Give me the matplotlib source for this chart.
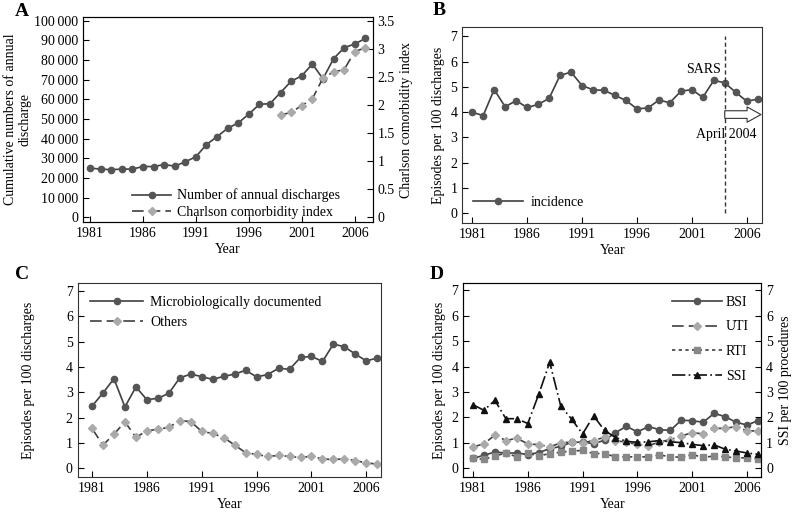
import numpy as np
import matplotlib
matplotlib.use("Agg")
import matplotlib.pyplot as plt
from matplotlib.ticker import FuncFormatter, MultipleLocator

plt.rcParams['font.family'] = ['Liberation Serif', 'DejaVu Serif']
plt.rcParams['font.size'] = 10

# -----------------------------
# Data
# -----------------------------
years = list(range(1981, 2008))

discharges = [25000, 24500, 24200, 24500, 24500, 25800, 25800, 26800, 26000, 28200,
              30800, 37000, 41000, 45300, 48000, 52500, 57500, 57800, 63500, 69200,
              72000, 78000, 70500, 80700, 86300, 88200, 91000]
charlson_years = list(range(1999, 2008))
charlson = [1.82, 1.87, 1.99, 2.11, 2.48, 2.59, 2.63, 2.95, 3.02]

incidence = [3.99, 3.86, 4.89, 4.21, 4.45, 4.18, 4.30, 4.54, 5.45, 5.58,
             5.05, 4.88, 4.86, 4.66, 4.46, 4.13, 4.16, 4.47, 4.37, 4.82,
             4.89, 4.58, 5.25, 5.16, 4.78, 4.43, 4.51]

micro = [2.45, 2.97, 3.54, 2.42, 3.21, 2.71, 2.76, 2.96, 3.57, 3.72,
         3.62, 3.51, 3.63, 3.72, 3.87, 3.61, 3.70, 3.95, 3.91, 4.38,
         4.42, 4.22, 4.91, 4.80, 4.51, 4.24, 4.36]
others = [1.57, 0.91, 1.34, 1.83, 1.22, 1.47, 1.54, 1.61, 1.88, 1.84,
          1.45, 1.37, 1.21, 0.91, 0.61, 0.54, 0.46, 0.50, 0.46, 0.42,
          0.47, 0.36, 0.34, 0.36, 0.30, 0.20, 0.16]

bsi = [0.39, 0.51, 0.64, 0.60, 0.60, 0.54, 0.62, 0.77, 0.86, 1.02,
       1.03, 0.97, 1.10, 1.40, 1.65, 1.43, 1.64, 1.52, 1.49, 1.89,
       1.87, 1.81, 2.16, 2.03, 1.81, 1.70, 1.87]
uti = [0.84, 0.96, 1.31, 1.09, 1.18, 0.96, 0.93, 0.84, 1.00, 1.03,
       1.00, 1.09, 1.22, 1.09, 1.02, 0.94, 0.89, 1.03, 1.13, 1.27,
       1.40, 1.35, 1.57, 1.57, 1.64, 1.47, 1.47]
rti = [0.39, 0.35, 0.48, 0.60, 0.45, 0.60, 0.48, 0.58, 0.63, 0.68,
       0.70, 0.58, 0.58, 0.45, 0.45, 0.45, 0.45, 0.52, 0.46, 0.43,
       0.54, 0.43, 0.48, 0.45, 0.41, 0.41, 0.38]
ssi = [2.50, 2.28, 2.67, 1.95, 1.95, 1.76, 2.91, 4.17, 2.46, 1.93,
       1.35, 2.06, 1.49, 1.21, 1.06, 1.02, 1.04, 1.09, 1.04, 1.01,
       0.94, 0.89, 0.92, 0.75, 0.68, 0.60, 0.55]

year_ticks = [1981, 1986, 1991, 1996, 2001, 2006]

LINE = '#404040'
DARK = '#555555'
LIGHT = '#aaaaaa'
MID = '#888888'
LONGDASH = (0, (7, 3))


def style_axes(ax):
    ax.tick_params(direction='in', length=4, width=0.8, labelsize=10)
    for s in ax.spines.values():
        s.set_linewidth(0.8)
        s.set_color('#333333')
    ax.set_xticks(year_ticks)
    ax.set_xlabel('Year', labelpad=2)


def thousands(v, pos):
    return '{:,}'.format(int(v)).replace(',', '\u2009')


fig = plt.figure(figsize=(7.93, 5.12), dpi=100)

# -----------------------------
# Panel A
# -----------------------------
axA = fig.add_axes([0.1047, 0.566, 0.3653, 0.401])
axA.plot(years, discharges, color=LINE, lw=1.2, marker='o', ms=4.5,
         mfc=DARK, mec=DARK, label='Number of annual discharges')
axA.set_xlim(1980.34, 2007.7)
axA.set_ylim(-2550, 102000)
axA.yaxis.set_major_locator(MultipleLocator(10000))
axA.yaxis.set_major_formatter(FuncFormatter(thousands))
style_axes(axA)
axA.set_ylabel('Cumulative numbers of annual\ndischarge', labelpad=2, linespacing=1.1)

axA2 = axA.twinx()
axA2.plot(charlson_years, charlson, color=LINE, lw=1.2, ls=LONGDASH, marker='D', ms=4,
          mfc=LIGHT, mec=LIGHT, label='Charlson comorbidity index')
axA2.set_ylim(-0.089, 3.57)
axA2.set_yticks([0, 0.5, 1, 1.5, 2, 2.5, 3, 3.5])
axA2.set_yticklabels(['0', '0.5', '1', '1.5', '2', '2.5', '3', '3.5'])
axA2.tick_params(direction='in', length=4, width=0.8, labelsize=10)
axA2.set_ylabel('Charlson comorbidity index', labelpad=4)

h1, l1 = axA.get_legend_handles_labels()
h2, l2 = axA2.get_legend_handles_labels()
axA2.legend(h1 + h2, l1 + l2, loc='lower right', bbox_to_anchor=(0.93, -0.045),
            frameon=False, handlelength=2.8, handletextpad=0.4, fontsize=10,
            labelspacing=0.25)

# -----------------------------
# Panel B
# -----------------------------
axB = fig.add_axes([0.583, 0.564, 0.378, 0.383])
axB.plot(years, incidence, color=LINE, lw=1.2, marker='o', ms=4.5,
         mfc=DARK, mec=DARK, label='incidence')
axB.axvline(2004, ymin=0.4 / 7.76, ymax=7.4 / 7.76, color='#333333', lw=1, ls=(0, (3, 2)))
axB.text(2003.7, 5.7, 'SARS', ha='right', va='center', fontsize=10)
axB.text(2004.1, 3.1, 'April 2004', ha='center', va='center', fontsize=10)
axB.annotate('', xy=(2007.3, 3.9), xytext=(2004.0, 3.9),
             arrowprops=dict(arrowstyle='simple,head_length=1.0,head_width=1.1,tail_width=0.55',
                             fc='white', ec='#333333', lw=0.8, shrinkA=0, shrinkB=0))
axB.set_xlim(1980.1, 2007.4)
axB.set_ylim(-0.4, 7.36)
axB.set_yticks(range(0, 8))
style_axes(axB)
axB.set_ylabel('Episodes per 100 discharges', labelpad=4)
axB.legend(loc='lower left', bbox_to_anchor=(-0.005, 0.01), frameon=False,
           handlelength=3.6, handletextpad=0.5, fontsize=10)

# -----------------------------
# Panel C
# -----------------------------
axC = fig.add_axes([0.098, 0.068, 0.382, 0.379])
axC.plot(years, micro, color=LINE, lw=1.2, marker='o', ms=4.5,
         mfc=DARK, mec=DARK, label='Microbiologically documented')
axC.plot(years, others, color=LINE, lw=1.2, ls=LONGDASH, marker='D', ms=4,
         mfc=LIGHT, mec=LIGHT, label='Others')
axC.set_xlim(1979.7, 2007.3)
axC.set_ylim(-0.36, 7.32)
axC.set_yticks(range(0, 8))
style_axes(axC)
axC.set_ylabel('Episodes per 100 discharges', labelpad=22)
axC.legend(loc='upper left', frameon=False, handlelength=3.8, handletextpad=0.5,
           fontsize=10, labelspacing=0.55)

# -----------------------------
# Panel D
# -----------------------------
axD = fig.add_axes([0.584, 0.068, 0.376, 0.379])
axD.plot(years, bsi, color=LINE, lw=1.2, marker='o', ms=4.5,
         mfc=DARK, mec=DARK, label='BSI')
axD.plot(years, uti, color=LINE, lw=1.2, ls=LONGDASH, marker='D', ms=4,
         mfc=LIGHT, mec=LIGHT, label='UTI')
axD.plot(years, rti, color=LINE, lw=1.2, ls=(0, (2, 2)), marker='s', ms=4,
         mfc=MID, mec=MID, label='RTI')
axD.set_xlim(1980.1, 2007.3)
axD.set_ylim(-0.35, 7.28)
axD.set_yticks(range(0, 8))
style_axes(axD)
axD.set_ylabel('Episodes per 100 discharges', labelpad=4)

axD2 = axD.twinx()
axD2.plot(years, ssi, color='#111111', lw=1.2, ls=(0, (8, 2, 1, 2)), marker='^', ms=4.5,
          mfc='#111111', mec='#111111', label='SSI')
axD2.set_ylim(-0.35, 7.28)
axD2.set_yticks(range(0, 8))
axD2.tick_params(direction='in', length=4, width=0.8, labelsize=10)
axD2.set_ylabel('SSI per 100 procedures', labelpad=4)

h1, l1 = axD.get_legend_handles_labels()
h2, l2 = axD2.get_legend_handles_labels()
axD2.legend(h1 + h2, l1 + l2, loc='upper right', frameon=False, handlelength=3.6,
            fontsize=10, labelspacing=0.85, handletextpad=0.3)

# panel letters
for lab, x, y in [('A', 0.028, 0.977), ('B', 0.554, 0.98), ('C', 0.028, 0.463), ('D', 0.551, 0.463)]:
    fig.text(x, y, lab, fontsize=14, fontweight='bold', ha='center', va='center')

fig.savefig('out.png', dpi=100)
